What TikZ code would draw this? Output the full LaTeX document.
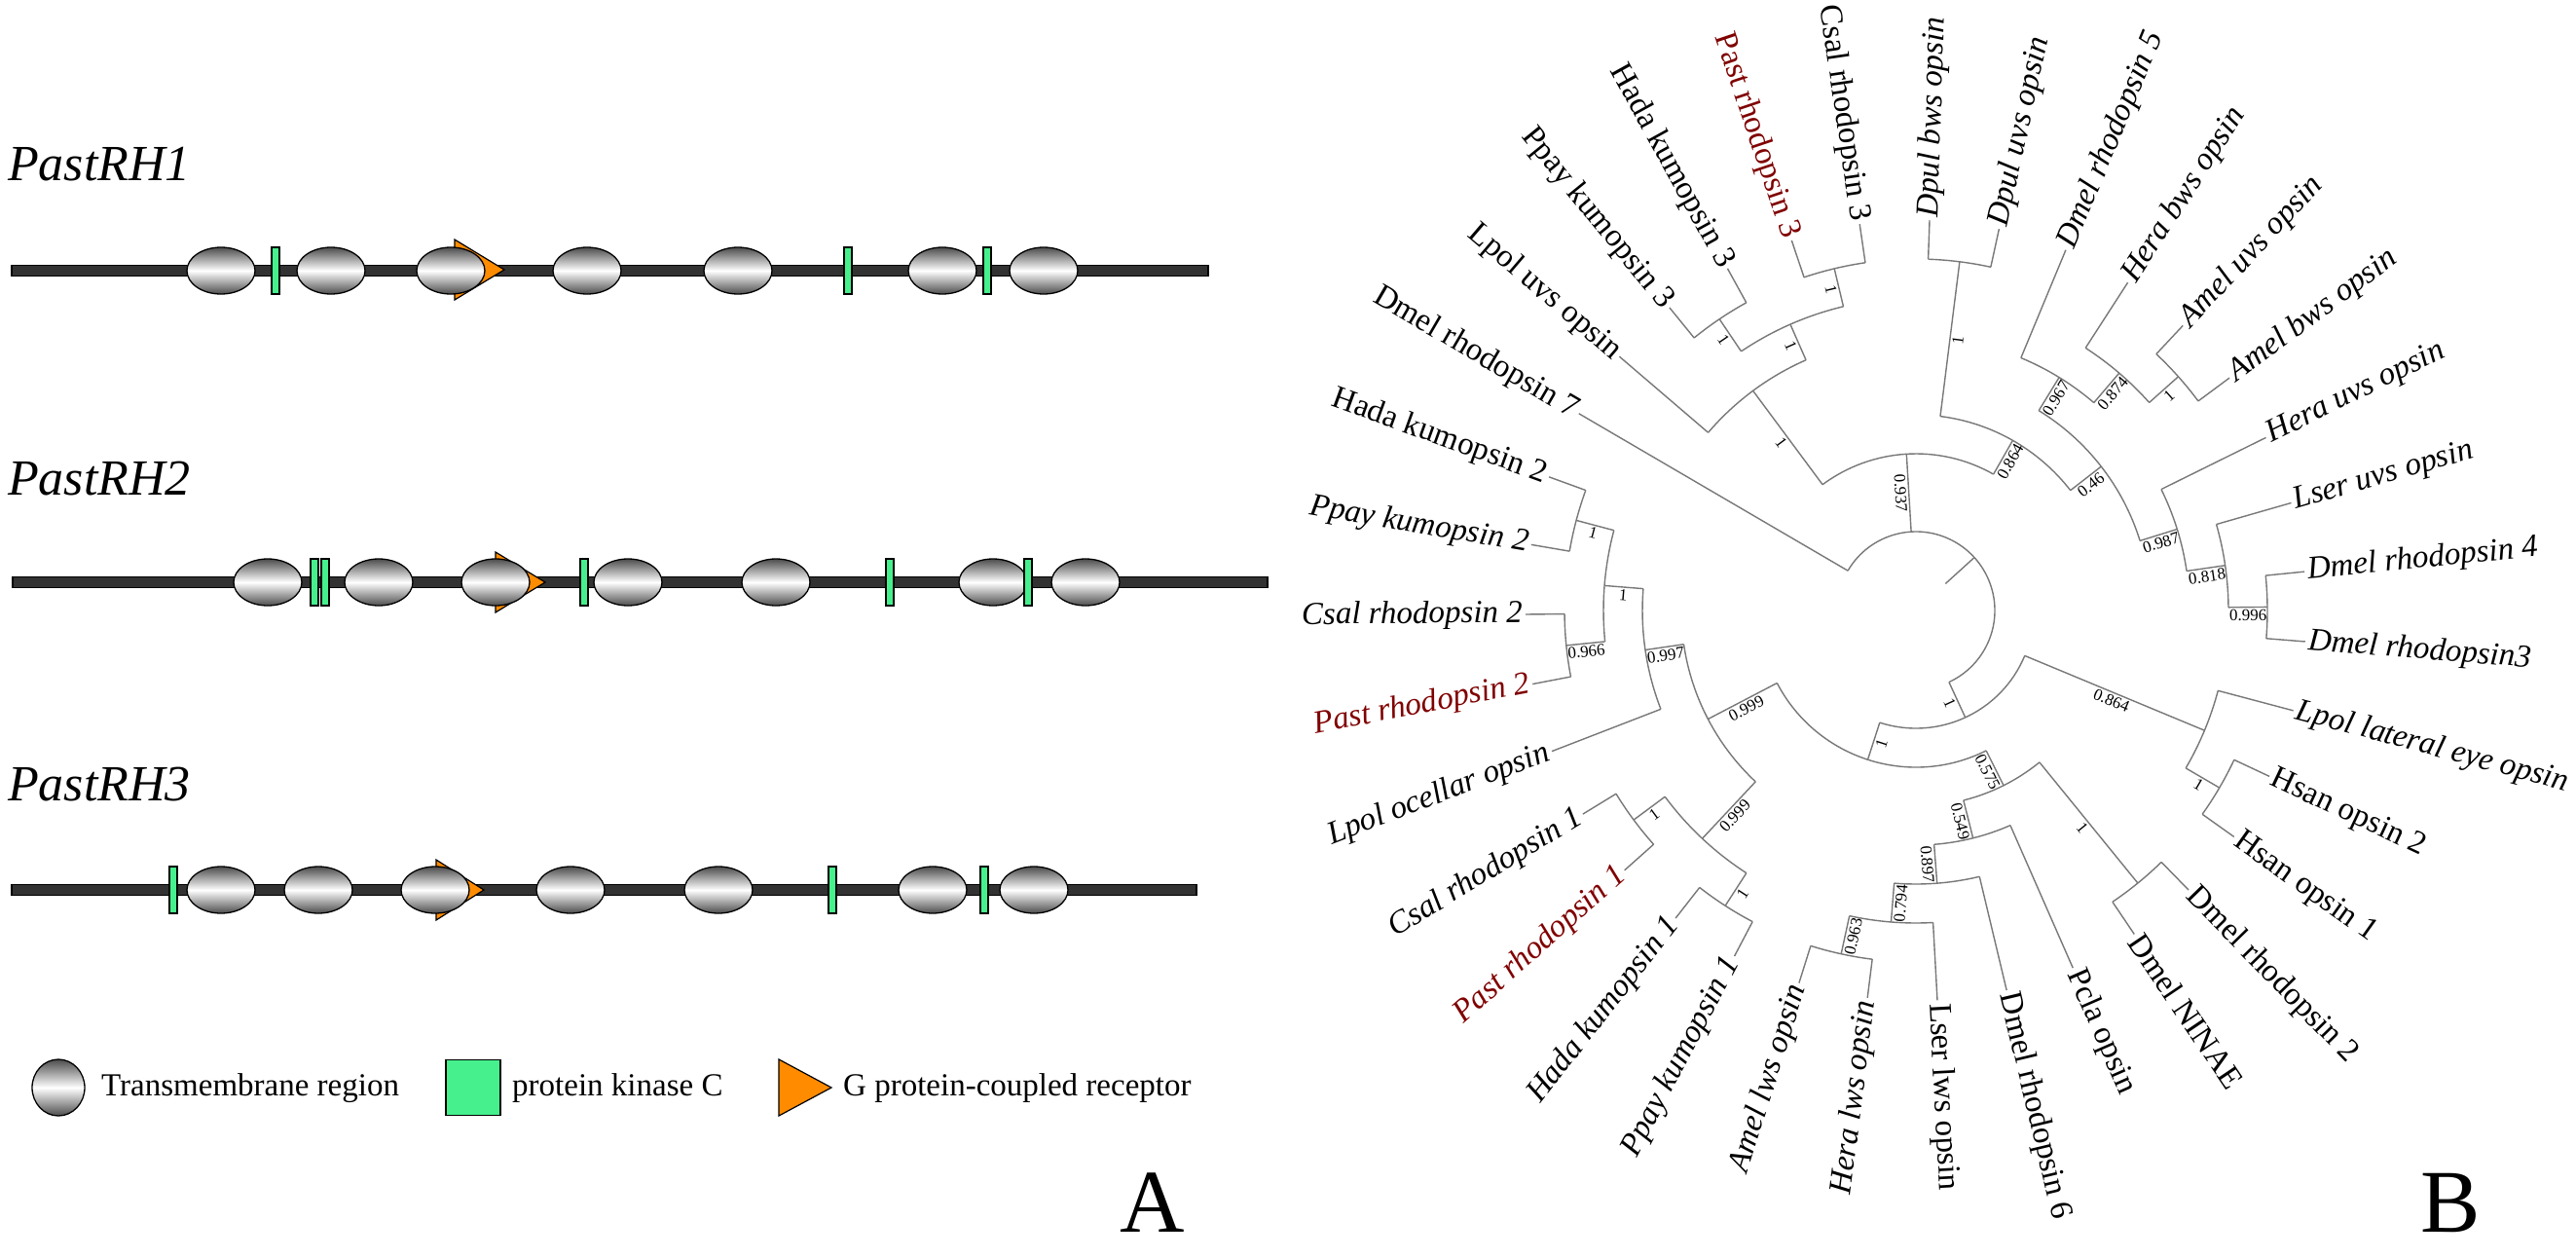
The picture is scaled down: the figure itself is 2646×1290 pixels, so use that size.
\documentclass[tikz,border=0pt]{standalone}
\usepackage{fontspec}
\setmainfont{Liberation Serif}
\usetikzlibrary{shapes.geometric}
\definecolor{pkc}{RGB}{70,240,140}
\definecolor{gpcr}{RGB}{255,140,0}
\definecolor{pastred}{RGB}{128,0,0}
\definecolor{spine}{RGB}{50,50,50}
\definecolor{treegray}{RGB}{120,120,120}
\newcommand\leaffont{\fontsize{33}{38}\selectfont}
\newcommand\supfont{\fontsize{17}{20}\selectfont}
\newcommand\genefont{\fontsize{52}{60}\selectfont\itshape}
\newcommand\legfont{\fontsize{33}{38}\selectfont}
\newcommand\panelfont{\fontsize{92}{100}\selectfont}
\tikzset{
 tm/.style={ellipse, draw=black, line width=1.3pt, top color=black!70, bottom color=black!70, middle color=white, minimum width=70pt, minimum height=48pt, inner sep=0pt},
 pkcbar/.style={rectangle, draw=black, line width=1.2pt, fill=pkc, minimum width=8pt, minimum height=48pt, inner sep=0pt},
 gtri/.style={draw=black, line width=1.2pt, fill=gpcr},
 spinebar/.style={rectangle, draw=black, line width=1.3pt, fill=spine, minimum height=11pt, inner sep=0pt},
 genelab/.style={anchor=base west, inner sep=0pt, font=\genefont},
 leglab/.style={anchor=base west, inner sep=0pt, font=\legfont},
 tl/.style={draw=treegray, line width=1.4pt},
 leafR/.style={anchor=west, inner sep=3pt},
 leafL/.style={anchor=east, inner sep=3pt},
 it/.style={font=\leaffont\itshape},
 up/.style={font=\leaffont},
 red/.style={text=pastred},
 bsl/.style={anchor=north, inner sep=2.5pt, font=\supfont},
}
% internal node: name, angle, parent r, r, label, first child angle, last child angle
\newcommand\TinR[7]{\draw[tl] (#2:#3) -- (#2:#4);
 \draw[tl] (#6:#4) arc[start angle=#6, end angle=#7, radius=#4pt];
 \node[bsl, rotate=#2] (#1) at (#2:{(#3+#4)/2}) {#5};}
\newcommand\TinL[7]{\draw[tl] (#2:#3) -- (#2:#4);
 \draw[tl] (#6:#4) arc[start angle=#6, end angle=#7, radius=#4pt];
 \node[bsl, rotate=#2+180] (#1) at (#2:{(#3+#4)/2}) {#5};}
% leaf: name, angle, parent r, text, style
\newcommand\TlfR[5]{\draw[tl] (#2:#3) -- (#2:401);
 \node[leafR, rotate=#2, #5] (#1) at (#2:401) {#4};}
\newcommand\TlfL[5]{\draw[tl] (#2:#3) -- (#2:401);
 \node[leafL, rotate=#2+180, #5] (#1) at (#2:401) {#4};}
\begin{document}
\begin{tikzpicture}[x=1pt,y=1pt]
\useasboundingbox (0,-1290) rectangle (2646,0);
\fill[white] (0,-1290) rectangle (2646,0);
% ---------------- Panel A ----------------
\node[genelab] (g1) at (8,-185) {PastRH1};
\node[genelab] (g2) at (8,-508) {PastRH2};
\node[genelab] (g3) at (8,-822) {PastRH3};
% row 1
\node[spinebar, minimum width=1229pt] (s1) at (626.5,-278) {};
\draw[gtri] (467,-246) -- (518,-277) -- (467,-308) -- cycle;
\foreach \x [count=\i] in {227,340,463,603,758,968,1072}
  \node[tm] (r1e\i) at (\x,-278) {};
\foreach \x [count=\i] in {283,871,1014}
  \node[pkcbar] (r1b\i) at (\x,-278) {};
% row 2
\node[spinebar, minimum width=1289pt] (s2) at (657.5,-598) {};
\draw[gtri] (509,-567) -- (560,-598) -- (509,-629) -- cycle;
\foreach \x [count=\i] in {275,389,509,645,797,1020,1115}
  \node[tm] (r2e\i) at (\x,-598) {};
\foreach \x [count=\i] in {323,334,600,914,1056}
  \node[pkcbar] (r2b\i) at (\x,-598) {};
% row 3
\node[spinebar, minimum width=1217pt] (s3) at (620.5,-914) {};
\draw[gtri] (448,-883) -- (497,-914) -- (448,-945) -- cycle;
\foreach \x [count=\i] in {227,327,447,586,738,958,1062}
  \node[tm] (r3e\i) at (\x,-914) {};
\foreach \x [count=\i] in {178,855,1011}
  \node[pkcbar] (r3b\i) at (\x,-914) {};
% legend
\node[tm, minimum width=54pt, minimum height=58pt] (legtm) at (60,-1117) {};
\node[leglab] (legtmt) at (104,-1125) {Transmembrane region};
\node[pkcbar, minimum width=56pt, minimum height=57pt] (legpkc) at (486,-1117) {};
\node[leglab] (legpkct) at (526,-1125) {protein kinase C};
\draw[gtri] (800,-1088) -- (854,-1117) -- (800,-1146) -- cycle;
\node[leglab] (leggt) at (866,-1125) {G protein-coupled receptor};
\node[anchor=base west, inner sep=0pt, font=\panelfont] (pA) at (1150,-1265) {A};
\node[anchor=base west, inner sep=0pt, font=\panelfont] (pB) at (2486,-1265) {B};
% ---------------- Panel B : tree ----------------
\begin{scope}[shift={(1968,-627)}]
\draw[tl] (42.24:41) -- (42.24:81);
\draw[tl] (149.71:81) arc[start angle=149.71, end angle=-65.24, radius=81pt];
\TlfL{lrh7}{149.71}{81}{Dmel rhodopsin 7}{up}
\TinL{n937}{93.46}{81}{161}{0.937}{126.57}{60.36}
\TinL{nK}{126.57}{161}{281}{1}{139.43}{113.71}
\TlfL{luvs}{139.43}{281}{Lpol uvs opsin}{up}
\TinL{nX}{113.71}{281}{321}{1}{124.0}{103.43}
\TinL{nHP}{124.0}{321}{361}{1}{129.14}{118.86}
\TlfL{lpk3}{129.14}{361}{Ppay kumopsin 3}{up}
\TlfL{lhk3}{118.86}{361}{Hada kumopsin 3}{up}
\TinL{nPC}{103.43}{321}{361}{1}{108.57}{98.29}
\TlfL{lpr3}{108.57}{361}{Past rhodopsin 3}{up,red}
\TlfL{lcr3}{98.29}{361}{Csal rhodopsin 3}{up}
\TinR{n864a}{60.36}{161}{201}{0.864}{82.86}{37.86}
\TinR{nDp}{82.86}{201}{361}{1}{88}{77.71}
\TlfR{ldb}{88}{361}{Dpul bws opsin}{it}
\TlfR{ldu}{77.71}{361}{Dpul uvs opsin}{it}
\TinR{n46}{37.86}{201}{241}{0.46}{58.43}{17.29}
\TinR{n967}{58.43}{241}{281}{0.967}{67.43}{49.43}
\TlfR{lrh5}{67.43}{281}{Dmel rhodopsin 5}{it}
\TinR{n874}{49.43}{281}{321}{0.874}{57.14}{41.71}
\TlfR{lhb}{57.14}{321}{Hera bws opsin}{it}
\TinR{nAm}{41.71}{321}{361}{1}{46.86}{36.57}
\TlfR{lau}{46.86}{361}{Amel uvs opsin}{it}
\TlfR{lab}{36.57}{361}{Amel bws opsin}{it}
\TinR{n987}{17.29}{241}{281}{0.987}{26.29}{8.29}
\TlfR{lhu}{26.29}{281}{Hera uvs opsin}{it}
\TinR{n818}{8.29}{281}{321}{0.818}{16.0}{0.57}
\TlfR{llu}{16.0}{321}{Lser uvs opsin}{it}
\TinR{n996}{0.57}{321}{361}{0.996}{5.71}{-4.57}
\TlfR{lrh4}{5.71}{361}{Dmel rhodopsin 4}{it}
\TlfR{lrh3}{-4.57}{361}{Dmel rhodopsin3}{it}
\TinR{nL}{-65.24}{81}{121}{1}{-22.57}{-107.91}
\TinR{nH}{-22.57}{121}{321}{0.864}{-14.86}{-30.29}
\TlfR{llat}{-14.86}{321}{Lpol lateral eye opsin}{it}
\TinR{nHs}{-30.29}{321}{361}{1}{-25.14}{-35.43}
\TlfR{lhs2}{-25.14}{361}{Hsan opsin 2}{up}
\TlfR{lhs1}{-35.43}{361}{Hsan opsin 1}{up}
\TinL{nB}{-107.91}{121}{161}{1}{-63.39}{-152.43}
\TinR{n575}{-63.39}{161}{201}{0.575}{-50.86}{-75.93}
\TinR{nND}{-50.86}{201}{361}{1}{-45.71}{-56.0}
\TlfR{lrh2}{-45.71}{361}{Dmel rhodopsin 2}{up}
\TlfR{lnin}{-56.0}{361}{Dmel NINAE}{up}
\TinR{n549}{-75.93}{201}{241}{0.549}{-66.29}{-85.57}
\TlfR{lpcla}{-66.29}{241}{Pcla opsin}{up}
\TinR{n897}{-85.57}{241}{281}{0.897}{-76.57}{-94.57}
\TlfR{lrh6}{-76.57}{281}{Dmel rhodopsin 6}{up}
\TinL{n794}{-94.57}{281}{321}{0.794}{-86.86}{-102.29}
\TlfR{lll}{-86.86}{321}{Lser lws opsin}{up}
\TinL{n963}{-102.29}{321}{361}{0.963}{-97.14}{-107.43}
\TlfL{lhl}{-97.14}{361}{Hera lws opsin}{it}
\TlfL{lal}{-107.43}{361}{Amel lws opsin}{it}
\TinL{nP}{-152.43}{161}{241}{0.999}{-133.14}{-171.71}
\TinL{n999}{-133.14}{241}{321}{0.999}{-122.86}{-143.43}
\TinL{nHK}{-122.86}{321}{361}{1}{-117.71}{-128.0}
\TlfL{lpk1}{-117.71}{361}{Ppay kumopsin 1}{it}
\TlfL{lhk1}{-128.0}{361}{Hada kumopsin 1}{it}
\TinL{nCP}{-143.43}{321}{361}{1}{-138.29}{-148.57}
\TlfL{lpr1}{-138.29}{361}{Past rhodopsin 1}{it,red}
\TlfL{lcr1}{-148.57}{361}{Csal rhodopsin 1}{it}
\TinL{n997}{-171.71}{241}{281}{0.997}{-158.86}{-184.57}
\TlfL{loc}{-158.86}{281}{Lpol ocellar opsin}{it}
\TinL{n1b}{-184.57}{281}{321}{1}{-174.29}{-194.86}
\TinL{n966}{-174.29}{321}{361}{0.966}{-169.14}{-179.43}
\TlfL{lpr2}{-169.14}{361}{Past rhodopsin 2}{it,red}
\TlfL{lcr2}{-179.43}{361}{Csal rhodopsin 2}{it}
\TinL{nK2}{-194.86}{321}{361}{1}{-189.71}{-200}
\TlfL{lpk2}{-189.71}{361}{Ppay kumopsin 2}{it}
\TlfL{lhk2}{-200}{361}{Hada kumopsin 2}{up}
\end{scope}
\end{tikzpicture}
\end{document}
